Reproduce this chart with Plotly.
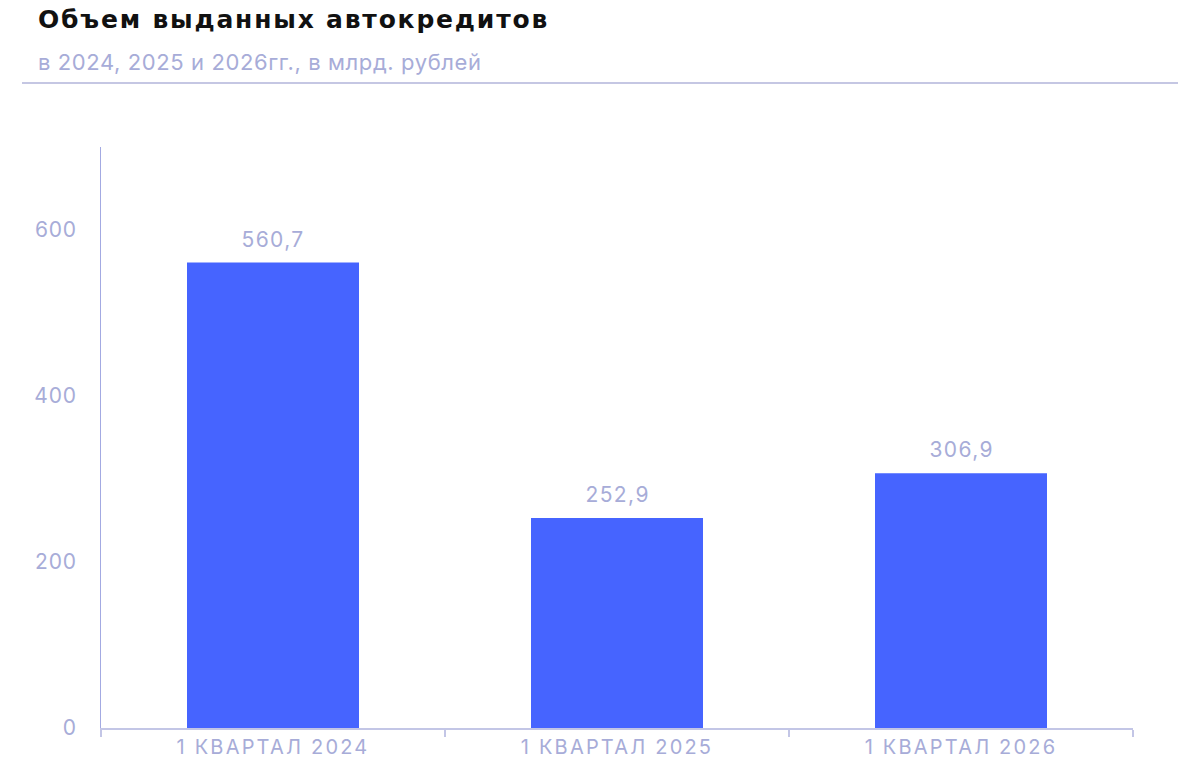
import plotly.graph_objects as go

categories = ["1 КВАРТАЛ 2024", "1 КВАРТАЛ 2025", "1 КВАРТАЛ 2026"]
values = [560.7, 252.9, 306.9]
y_ticks = [0, 200, 400, 600]

title_text = "Объем выданных автокредитов"
subtitle_text = "в 2024, 2025 и 2026гг., в млрд. рублей"

BAR = "#4664FF"
LAV = "#A7ACD8"
AXIS_X = "#C3C6E6"
AXIS_Y = "#A3AAE2"
FONT = "Inter, Roboto, sans-serif"

W, H = 1200, 780
ML, MR, MT, MB = 101, 67, 147, 52
PW = W - ML - MR
PH = H - MT - MB

def px_x(x):
    return (x - ML) / PW

def px_y(y):
    return (H - MB - y) / PH

fig = go.Figure()
fig.add_trace(go.Bar(
    x=categories, y=values, marker=dict(color=BAR, line=dict(width=0)),
    width=0.5, hoverinfo="skip",
))

for c, v in zip(categories, values):
    fig.add_annotation(
        x=c, y=v, xref="x", yref="y", text=f"{v:.1f}".replace(".", ","),
        showarrow=False, yanchor="bottom", yshift=9,
        font=dict(family=FONT, size=21, color=LAV),
    )

fig.add_annotation(
    x=px_x(36), y=px_y(19), xref="paper", yref="paper", xanchor="left", yanchor="middle",
    align="left", text=f"<b>{title_text}</b>", showarrow=False,
    font=dict(family="DejaVu Sans", size=25, color="#111111"),
)
fig.add_annotation(
    x=px_x(36), y=px_y(62), xref="paper", yref="paper", xanchor="left", yanchor="middle",
    align="left", text=subtitle_text, showarrow=False,
    font=dict(family=FONT, size=22, color=LAV),
)
fig.add_shape(
    type="line", xref="paper", yref="paper",
    x0=px_x(22), x1=px_x(1178), y0=px_y(83), y1=px_y(83),
    line=dict(color="#C5C7E3", width=2),
)

fig.update_layout(
    width=W, height=H,
    margin=dict(l=ML, r=MR, t=MT, b=MB),
    paper_bgcolor="white", plot_bgcolor="white",
    showlegend=False, bargap=0.5,
    font=dict(family=FONT, color=LAV),
)
fig.update_xaxes(
    showline=True, linecolor=AXIS_X, linewidth=2,
    ticks="outside", tickson="boundaries", ticklen=7, tickcolor=AXIS_X, tickwidth=1.5,
    tickfont=dict(family=FONT, size=20, color=LAV),
    showgrid=False, zeroline=False,
)
fig.update_yaxes(
    range=[0, 700], tickvals=y_ticks, ticktext=[str(t) for t in y_ticks],
    showline=True, linecolor=AXIS_Y, linewidth=1,
    ticks="", ticklabelstandoff=19,
    tickfont=dict(family=FONT, size=21, color=LAV),
    showgrid=False, zeroline=False,
)

post = """
document.body.style.margin='0';
function ls(){
  document.querySelectorAll('.xtick text').forEach(function(t){t.style.letterSpacing='2.2px';});
  document.querySelectorAll('.ytick text').forEach(function(t){t.style.letterSpacing='0.8px';});
  var a=document.querySelectorAll('g.annotation text.annotation-text');
  for(var i=0;i<a.length;i++){
    if(i<3){a[i].style.letterSpacing='1.4px';}
    else if(i==3){a[i].style.letterSpacing='1.8px';}
    else if(i==4){a[i].style.letterSpacing='0.6px';}
  }
}
ls();
var gd=document.getElementsByClassName('plotly-graph-div')[0];
if(gd&&gd.on){gd.on('plotly_afterplot', ls);}
"""
fig.write_html("out.html", post_script=post, config={"displayModeBar": False})
